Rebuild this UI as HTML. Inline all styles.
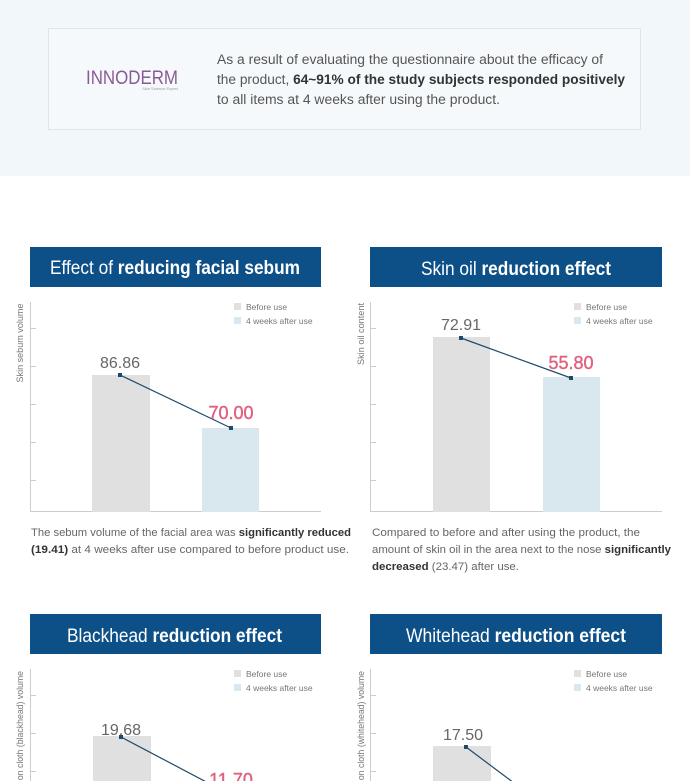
<!DOCTYPE html>
<html><head><meta charset="utf-8"><style>
html,body{margin:0;padding:0;width:690px;height:781px;overflow:hidden;background:#fff}
svg{display:block;font-family:"Liberation Sans",sans-serif}
</style></head><body>
<svg width="690" height="781" viewBox="0 0 690 781" xmlns="http://www.w3.org/2000/svg">
<rect x="0" y="0" width="690" height="176" fill="#f2f7fa"/>
<rect x="48.5" y="28.5" width="592" height="101" fill="#f6f9fb" stroke="#dfe6ea"/>
<text x="86" y="84" font-size="19" fill="#8a5a94" textLength="92" lengthAdjust="spacingAndGlyphs">INNODERM</text>
<text x="178" y="90" font-size="4" fill="#999" text-anchor="end">Skin Science Expert</text>
<g font-size="13.4" fill="#555">
<text x="217" y="64" textLength="386" lengthAdjust="spacingAndGlyphs">As a result of evaluating the questionnaire about the efficacy of</text>
<text x="217" y="84" textLength="408" lengthAdjust="spacingAndGlyphs">the product, <tspan font-weight="bold" fill="#333">64~91% of the study subjects responded positively</tspan></text>
<text x="217" y="104" textLength="283" lengthAdjust="spacingAndGlyphs">to all items at 4 weeks after using the product.</text>
</g>

<!-- Chart 1 -->
<rect x="30" y="247" width="291" height="40" fill="#0d5088"/>
<text x="50" y="274" font-size="19" fill="#fff" textLength="250" lengthAdjust="spacingAndGlyphs">Effect of <tspan font-weight="bold">reducing facial sebum</tspan></text>
<g stroke="#ccc"><line x1="30.5" y1="302" x2="30.5" y2="512"/><line x1="30" y1="511.5" x2="321" y2="511.5"/>
<line x1="30" y1="328.5" x2="36" y2="328.5"/><line x1="30" y1="366.5" x2="36" y2="366.5"/><line x1="30" y1="404.5" x2="36" y2="404.5"/><line x1="30" y1="442.5" x2="36" y2="442.5"/><line x1="30" y1="480.5" x2="36" y2="480.5"/></g>
<text transform="translate(23,343) rotate(-90)" font-size="9" fill="#777" text-anchor="middle" textLength="79" lengthAdjust="spacingAndGlyphs">Skin sebum volume</text>
<rect x="234" y="303" width="7" height="7" fill="#e0e0e0"/><rect x="234" y="317" width="7" height="7" fill="#d9e8ee"/>
<text x="246" y="310" font-size="8.5" fill="#777">Before use</text><text x="246" y="324" font-size="8.5" fill="#777">4 weeks after use</text>
<rect x="92" y="375" width="58" height="137" fill="#e0e0e0"/><rect x="202" y="428" width="57" height="84" fill="#d9e8ee"/>
<line x1="120" y1="375" x2="231" y2="428" stroke="#1e4a6a" stroke-width="1.2"/>
<rect x="118" y="373" width="4" height="4" fill="#1e4a6a"/><rect x="229" y="426" width="4" height="4" fill="#1e4a6a"/>
<text x="120" y="368" font-size="16" fill="#666" text-anchor="middle">86.86</text>
<text x="231" y="419" font-size="18" fill="#e0607e" text-anchor="middle" stroke="#e0607e" stroke-width="0.4">70.00</text>
<g font-size="11.4" fill="#666">
<text x="31" y="536" textLength="320" lengthAdjust="spacingAndGlyphs">The sebum volume of the facial area was <tspan font-weight="bold" fill="#333">significantly reduced</tspan></text>
<text x="31" y="553" textLength="318" lengthAdjust="spacingAndGlyphs"><tspan font-weight="bold" fill="#333">(19.41)</tspan> at 4 weeks after use compared to before product use.</text>
</g>

<!-- Chart 2 -->
<rect x="370" y="247" width="292" height="40" fill="#0d5088"/>
<text x="421" y="275" font-size="19" fill="#fff" textLength="190" lengthAdjust="spacingAndGlyphs">Skin oil <tspan font-weight="bold">reduction effect</tspan></text>
<g stroke="#ccc"><line x1="370.5" y1="302" x2="370.5" y2="512"/><line x1="370" y1="511.5" x2="662" y2="511.5"/>
<line x1="370" y1="328.5" x2="376" y2="328.5"/><line x1="370" y1="366.5" x2="376" y2="366.5"/><line x1="370" y1="404.5" x2="376" y2="404.5"/><line x1="370" y1="442.5" x2="376" y2="442.5"/><line x1="370" y1="480.5" x2="376" y2="480.5"/></g>
<text transform="translate(364,334) rotate(-90)" font-size="9" fill="#777" text-anchor="middle" textLength="62" lengthAdjust="spacingAndGlyphs">Skin oil content</text>
<rect x="574" y="303" width="7" height="7" fill="#e0e0e0"/><rect x="574" y="317" width="7" height="7" fill="#d9e8ee"/>
<text x="586" y="310" font-size="8.5" fill="#777">Before use</text><text x="586" y="324" font-size="8.5" fill="#777">4 weeks after use</text>
<rect x="433" y="337" width="57" height="175" fill="#e0e0e0"/><rect x="543" y="377" width="57" height="135" fill="#d9e8ee"/>
<line x1="461" y1="338" x2="571" y2="378" stroke="#1e4a6a" stroke-width="1.2"/>
<rect x="459" y="336" width="4" height="4" fill="#1e4a6a"/><rect x="569" y="376" width="4" height="4" fill="#1e4a6a"/>
<text x="461" y="330" font-size="16" fill="#666" text-anchor="middle">72.91</text>
<text x="571" y="369" font-size="18" fill="#e0607e" text-anchor="middle" stroke="#e0607e" stroke-width="0.4">55.80</text>
<g font-size="11.4" fill="#666">
<text x="372" y="536" textLength="268" lengthAdjust="spacingAndGlyphs">Compared to before and after using the product, the</text>
<text x="372" y="553" textLength="299" lengthAdjust="spacingAndGlyphs">amount of skin oil in the area next to the nose <tspan font-weight="bold" fill="#333">significantly</tspan></text>
<text x="372" y="570" textLength="147" lengthAdjust="spacingAndGlyphs"><tspan font-weight="bold" fill="#333">decreased</tspan> (23.47) after use.</text>
</g>

<!-- Chart 3 -->
<rect x="30" y="614" width="291" height="40" fill="#0d5088"/>
<text x="67" y="642" font-size="19" fill="#fff" textLength="215" lengthAdjust="spacingAndGlyphs">Blackhead <tspan font-weight="bold">reduction effect</tspan></text>
<g stroke="#ccc"><line x1="30.5" y1="669" x2="30.5" y2="781"/>
<line x1="30" y1="695.5" x2="36" y2="695.5"/><line x1="30" y1="733.5" x2="36" y2="733.5"/><line x1="30" y1="771.5" x2="36" y2="771.5"/></g>
<text transform="translate(23,671) rotate(-90)" font-size="9" fill="#777" text-anchor="end" textLength="180" lengthAdjust="spacingAndGlyphs">Amount of sebum on cloth (blackhead) volume</text>
<rect x="234" y="670" width="7" height="7" fill="#e0e0e0"/><rect x="234" y="684" width="7" height="7" fill="#d9e8ee"/>
<text x="246" y="677" font-size="8.5" fill="#777">Before use</text><text x="246" y="691" font-size="8.5" fill="#777">4 weeks after use</text>
<rect x="93" y="736" width="58" height="45" fill="#e0e0e0"/>
<line x1="121" y1="737" x2="231" y2="795" stroke="#1e4a6a" stroke-width="1.2"/>
<rect x="119" y="735" width="4" height="4" fill="#1e4a6a"/>
<text x="121" y="735" font-size="16" fill="#666" text-anchor="middle">19.68</text>
<text x="231" y="786" font-size="18" fill="#e0607e" text-anchor="middle" stroke="#e0607e" stroke-width="0.4">11.70</text>

<!-- Chart 4 -->
<rect x="370" y="614" width="292" height="40" fill="#0d5088"/>
<text x="406" y="642" font-size="19" fill="#fff" textLength="220" lengthAdjust="spacingAndGlyphs">Whitehead <tspan font-weight="bold">reduction effect</tspan></text>
<g stroke="#ccc"><line x1="370.5" y1="669" x2="370.5" y2="781"/>
<line x1="370" y1="695.5" x2="376" y2="695.5"/><line x1="370" y1="733.5" x2="376" y2="733.5"/><line x1="370" y1="771.5" x2="376" y2="771.5"/></g>
<text transform="translate(364,671) rotate(-90)" font-size="9" fill="#777" text-anchor="end" textLength="180" lengthAdjust="spacingAndGlyphs">Amount of sebum on cloth (whitehead) volume</text>
<rect x="574" y="670" width="7" height="7" fill="#e0e0e0"/><rect x="574" y="684" width="7" height="7" fill="#d9e8ee"/>
<text x="586" y="677" font-size="8.5" fill="#777">Before use</text><text x="586" y="691" font-size="8.5" fill="#777">4 weeks after use</text>
<rect x="433" y="746" width="58" height="35" fill="#e0e0e0"/>
<line x1="466" y1="747" x2="530" y2="795" stroke="#1e4a6a" stroke-width="1.2"/>
<rect x="464" y="745" width="4" height="4" fill="#1e4a6a"/>
<text x="463" y="740" font-size="16" fill="#666" text-anchor="middle">17.50</text>
</svg>
</body></html>
